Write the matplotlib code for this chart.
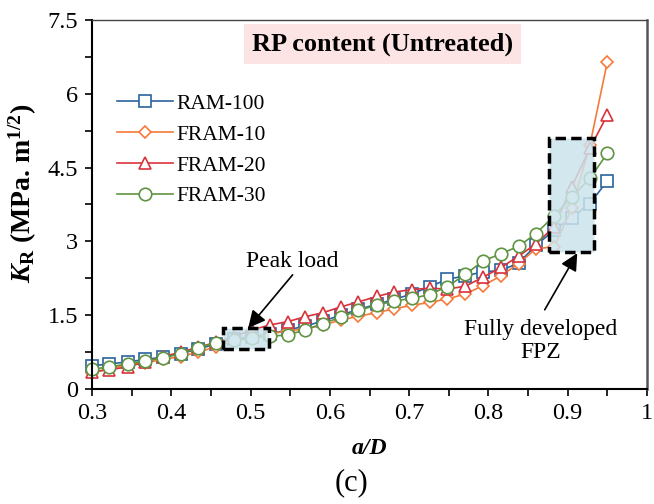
import matplotlib
matplotlib.use('Agg')
from matplotlib import pyplot as plt
from matplotlib.patches import Rectangle
from matplotlib.ticker import MultipleLocator

plt.rcParams['font.family'] = ['Liberation Serif', 'DejaVu Serif']
plt.rcParams['mathtext.fontset'] = 'custom'
plt.rcParams['mathtext.rm'] = 'Liberation Serif:bold'
plt.rcParams['mathtext.it'] = 'Liberation Serif:bold:italic'
plt.rcParams['mathtext.bf'] = 'Liberation Serif:bold'

# crack length ratio a/D
aD = [0.300, 0.322, 0.345, 0.367, 0.390, 0.412, 0.434, 0.457, 0.479, 0.502,
      0.524, 0.547, 0.569, 0.591, 0.614, 0.636, 0.659, 0.681, 0.703, 0.726,
      0.748, 0.771, 0.793, 0.816, 0.838, 0.860, 0.883, 0.905, 0.928, 0.950]

# resistance curves K_R
ram100 = [0.47, 0.51, 0.55, 0.60, 0.65, 0.72, 0.81, 0.92, 1.02, 1.06,
          1.12, 1.20, 1.28, 1.38, 1.50, 1.62, 1.72, 1.82, 1.93, 2.08,
          2.23, 2.30, 2.38, 2.41, 2.56, 2.92, 3.23, 3.48, 3.77, 4.23]
fram10 = [0.33, 0.42, 0.48, 0.53, 0.60, 0.66, 0.75, 0.86, 0.98, 1.03,
          1.12, 1.18, 1.22, 1.30, 1.40, 1.48, 1.55, 1.63, 1.70, 1.76,
          1.83, 1.93, 2.10, 2.30, 2.55, 2.85, 2.89, 3.67, 4.96, 6.65]
fram20 = [0.35, 0.39, 0.45, 0.55, 0.66, 0.75, 0.85, 0.95, 1.06, 1.20,
          1.30, 1.37, 1.47, 1.55, 1.67, 1.77, 1.88, 1.97, 2.02, 2.05,
          2.03, 2.09, 2.27, 2.47, 2.70, 2.95, 3.30, 4.11, 4.89, 5.57]
fram30 = [0.40, 0.45, 0.51, 0.57, 0.63, 0.72, 0.84, 0.94, 1.00, 1.04,
          1.07, 1.10, 1.20, 1.33, 1.46, 1.60, 1.70, 1.79, 1.84, 1.92,
          2.08, 2.33, 2.60, 2.75, 2.90, 3.16, 3.52, 3.90, 4.28, 4.79]

names = ['RAM-100', 'FRAM-10', 'FRAM-20', 'FRAM-30']
colors = ['#2a64a0', '#f57a3a', '#d8333b', '#5f9442']
markers = ['s', 'D', '^', 'o']
msizes = [8.5, 6, 8.5, 9]

fig = plt.figure(figsize=(6.54, 5.04), dpi=100)
ax = fig.add_axes([0.1407, 0.2282, 0.8486, 0.7321])

for ys, name, c, m, ms in zip([ram100, fram10, fram20, fram30], names, colors, markers, msizes):
    ax.plot(aD, ys, color=c, marker=m, markersize=ms, markerfacecolor='white',
            markeredgecolor=c, markeredgewidth=1.2, linewidth=1.2, label=name, clip_on=False)

# shaded zones
ax.add_patch(Rectangle((0.465, 0.81), 0.058, 0.43, facecolor=(0.80, 0.89, 0.92, 0.85),
                       edgecolor='black', linestyle=(0, (3, 1.5)), linewidth=2.5, zorder=5))
ax.add_patch(Rectangle((0.876, 2.78), 0.057, 2.32, facecolor=(0.80, 0.89, 0.92, 0.85),
                       edgecolor='black', linestyle=(0, (3, 1.5)), linewidth=2.5, zorder=5))

# arrows to the zones
arrow = dict(arrowstyle='-|>', color='black', lw=1.2, mutation_scale=26, shrinkA=0, shrinkB=0)
ax.annotate('', xy=(0.497, 1.24), xytext=(0.553, 2.32), arrowprops=arrow, zorder=6)
ax.annotate('', xy=(0.912, 2.76), xytext=(0.871, 1.61), arrowprops=arrow, zorder=6)
ax.text(0.553, 2.60, 'Peak load', ha='center', va='center', fontsize=17)
ax.text(0.866, 0.98, 'Fully developed\nFPZ', ha='center', va='center', fontsize=17, linespacing=1.1)

ax.text(0.666, 7.01, 'RP content (Untreated)', ha='center', va='center', fontsize=19,
        fontweight='bold', bbox=dict(boxstyle='square,pad=0.3', facecolor='#fde4e4', edgecolor='none'))

ax.set_xlim(0.3, 1.0)
ax.set_ylim(0, 7.5)
ax.xaxis.set_minor_locator(MultipleLocator(0.05))
ax.yaxis.set_minor_locator(MultipleLocator(0.75))
ax.set_xticks([0.3, 0.4, 0.5, 0.6, 0.7, 0.8, 0.9, 1.0])
ax.set_xticklabels(['0.3', '0.4', '0.5', '0.6', '0.7', '0.8', '0.9', '1'])
ax.set_yticks([0, 1.5, 3, 4.5, 6, 7.5])
ax.set_yticklabels(['0', '1.5', '3', '4.5', '6', '7.5'])
ax.tick_params(which='both', direction='out', length=5, width=1.2, labelsize=17.5)
ax.tick_params(axis='x', pad=5)
ax.tick_params(axis='y', pad=5)

ax.spines['left'].set_linewidth(1.5)
ax.spines['bottom'].set_linewidth(1.5)
ax.spines['top'].set_color('#444444')
ax.spines['top'].set_linewidth(1.0)
ax.spines['right'].set_color('#555555')
ax.spines['right'].set_linewidth(1.8)

ax.set_xlabel('a/D', fontsize=17, fontweight='bold', fontstyle='italic', labelpad=10)
ax.set_ylabel(r'$K_{\mathrm{R}}$ (MPa. m$^{\mathrm{1/2}}$)', fontsize=20, fontweight='bold')
ax.yaxis.set_label_coords(-0.096, 0.53)

ax.legend(loc='upper left', bbox_to_anchor=(0.045, 0.80), frameon=False, fontsize=15.5,
          handlelength=2.6, handletextpad=0.15, labelspacing=0.5, borderpad=0, borderaxespad=0)

fig.text(0.538, 0.042, '(c)', ha='center', va='center', fontsize=22)

fig.savefig('out.png', dpi=100)
